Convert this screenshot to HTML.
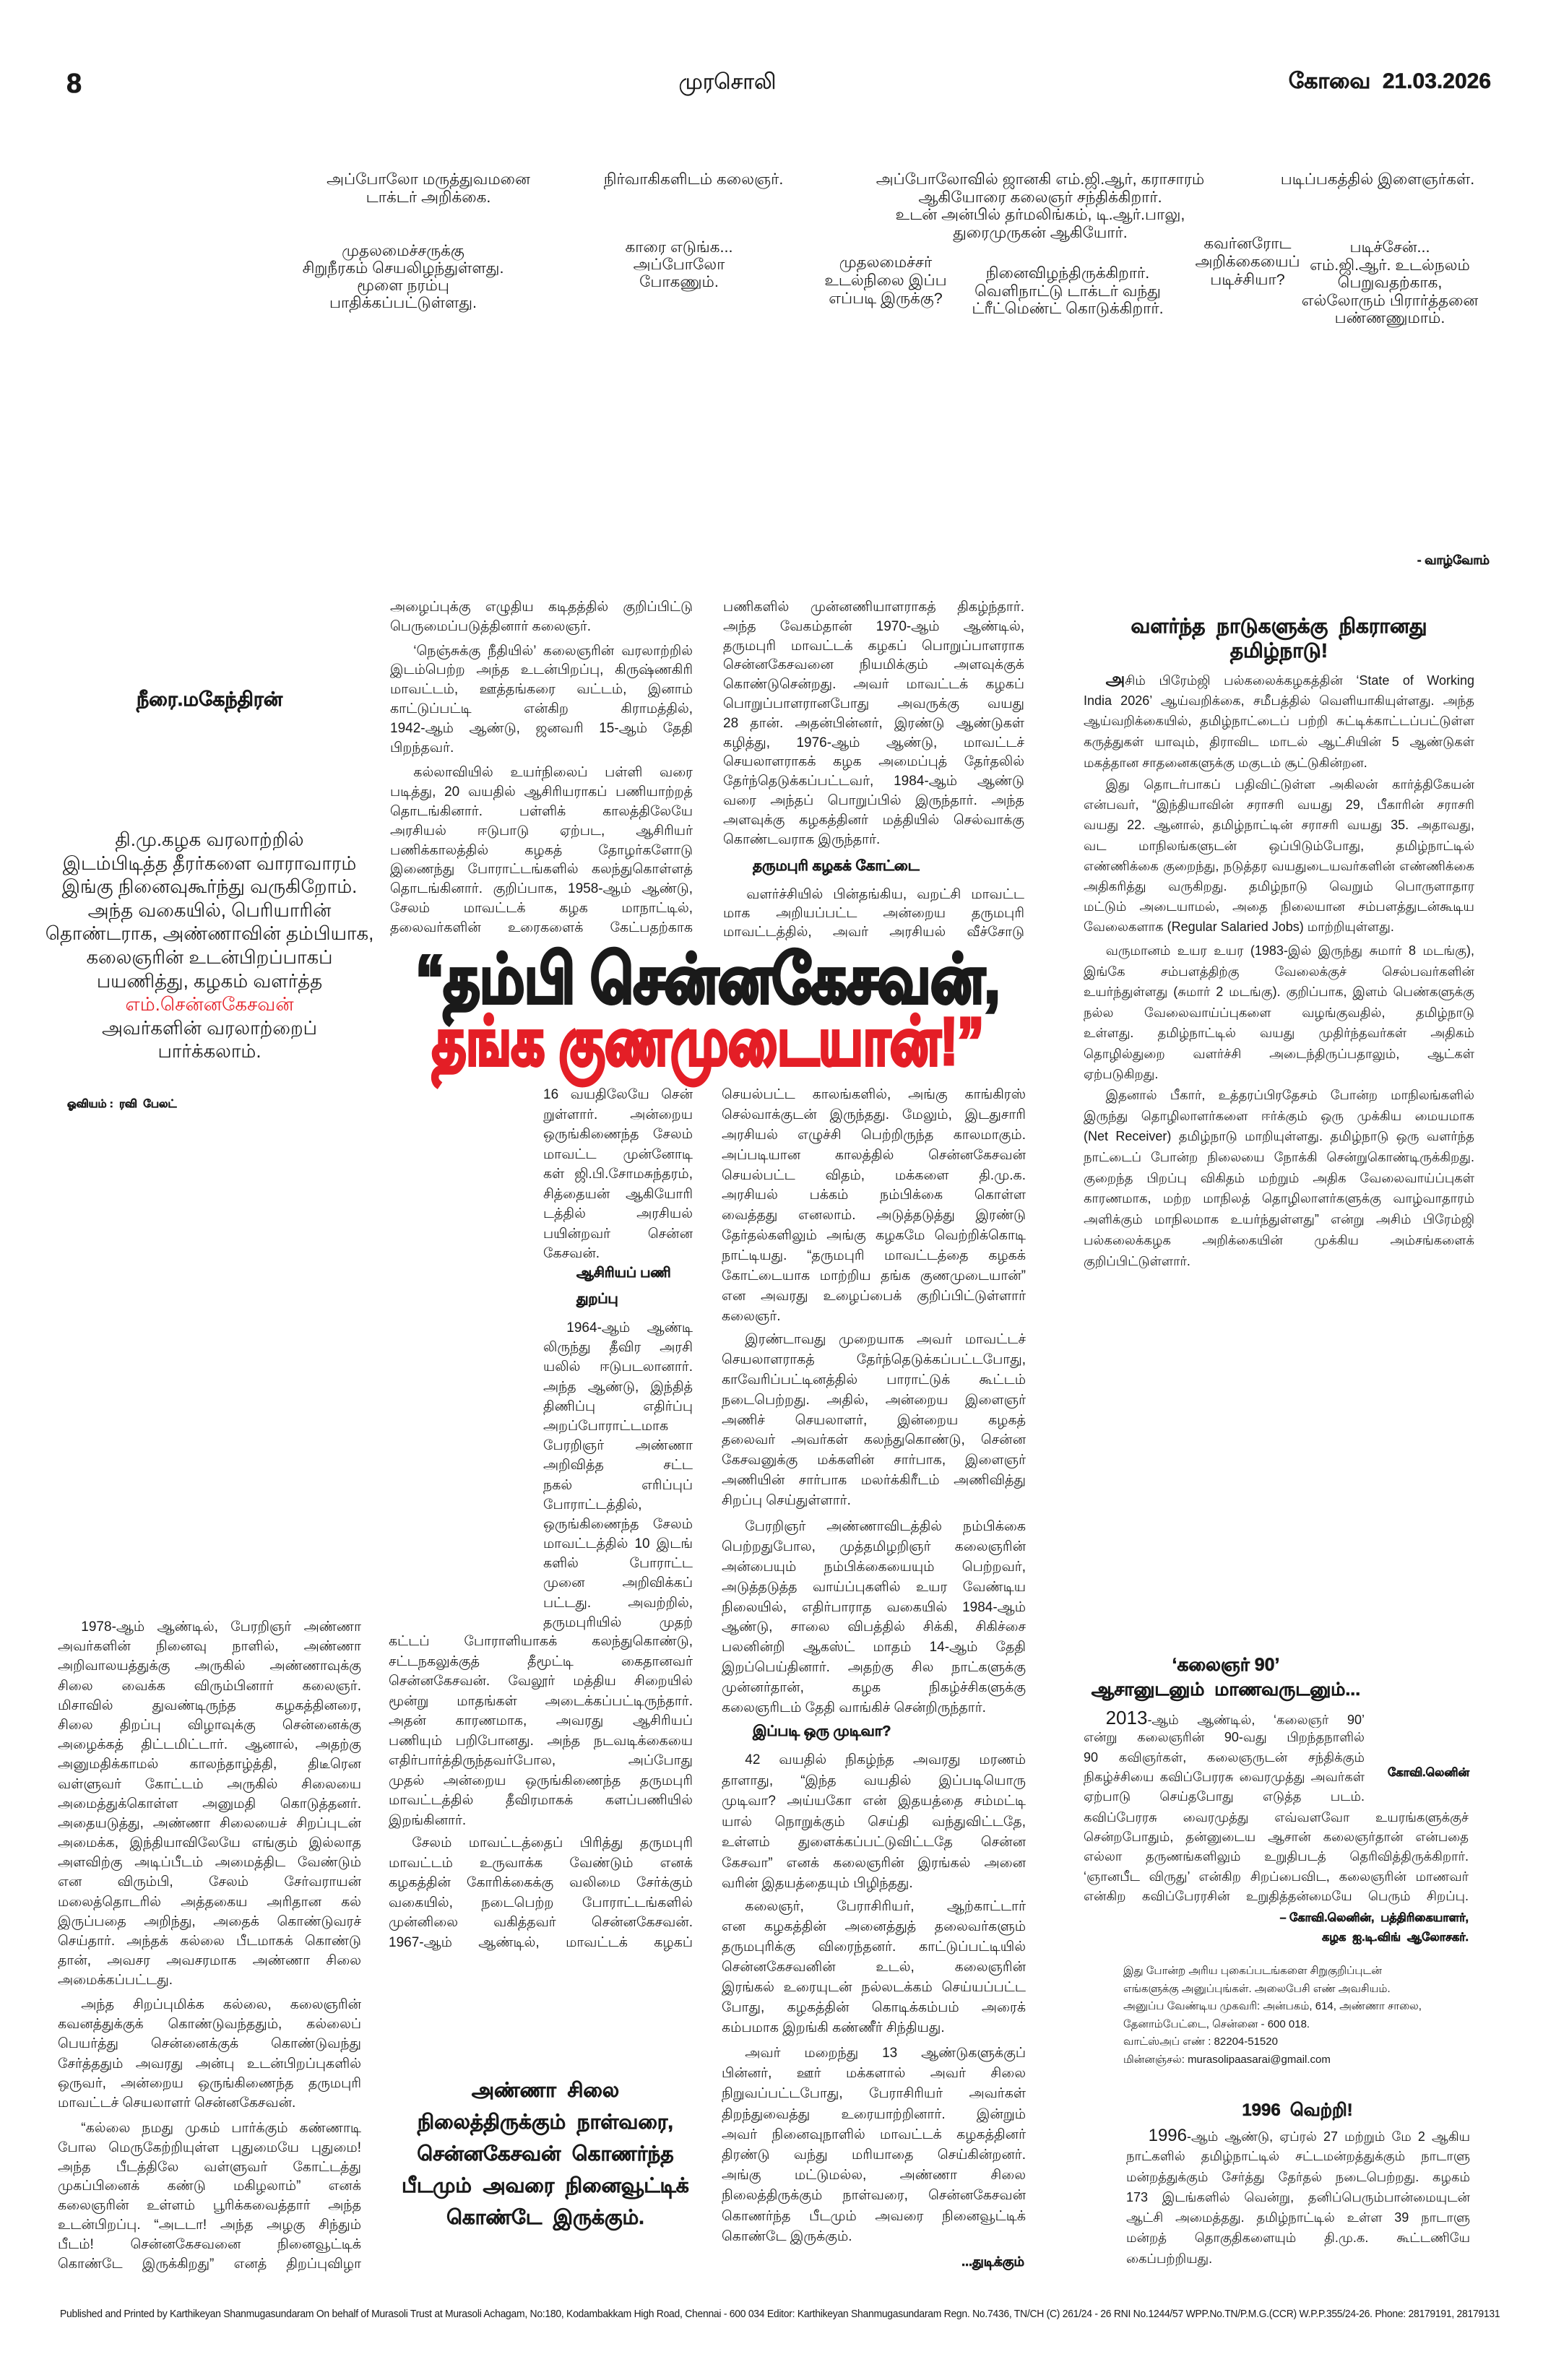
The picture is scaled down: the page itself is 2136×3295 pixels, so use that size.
<!DOCTYPE html>
<html lang="ta">
<head>
<meta charset="utf-8">
<style>
html,body{margin:0;padding:0;background:#fff;}
body{width:2136px;height:3295px;position:relative;overflow:hidden;color:#1a1a1a;font-family:"Liberation Sans","DejaVu Sans",sans-serif;}
.a{position:absolute;white-space:nowrap;}
.cap{position:absolute;width:460px;text-align:center;font-size:21.5px;line-height:25px;}
.c{position:absolute;font-size:19px;}
.c p{margin:0;height:var(--lh);line-height:var(--lh);overflow:hidden;text-align:justify;text-align-last:justify;}
.c p.e{text-align-last:left;}
.c p.i{text-indent:1.7em;}
.r{font-size:18px;}
.b{font-weight:bold;-webkit-text-stroke:0.6px currentColor;}
.hd{position:absolute;left:180px;width:1600px;text-align:center;font-weight:900;font-size:92px;white-space:nowrap;-webkit-text-stroke:5px currentColor;transform-origin:50% 50%;}
.ctr{position:absolute;text-align:center;white-space:nowrap;}
</style>
</head>
<body>

<!-- Header -->
<div class="a b" style="left:92px;top:96px;font-size:38px;line-height:40px;">8</div>
<div class="a" style="left:927px;top:97px;font-size:30px;line-height:34px;width:160px;text-align:center;-webkit-text-stroke:0.5px #1a1a1a;">முரசொலி</div>
<div class="a b" style="right:72px;top:96px;font-size:30px;line-height:34px;">கோவை&nbsp; 21.03.2026</div>

<!-- Top captions -->
<div class="cap" style="left:363px;top:236px;">அப்போலோ மருத்துவமனை<br>டாக்டர் அறிக்கை.</div>
<div class="cap" style="left:730px;top:236px;">நிர்வாகிகளிடம் கலைஞர்.</div>
<div class="cap" style="left:1210px;top:236px;line-height:24.5px;">அப்போலோவில் ஜானகி எம்.ஜி.ஆர், கராசாரம்<br>ஆகியோரை கலைஞர் சந்திக்கிறார்.<br>உடன் அன்பில் தர்மலிங்கம், டி.ஆர்.பாலு,<br>துரைமுருகன் ஆகியோர்.</div>
<div class="cap" style="left:1677px;top:236px;">படிப்பகத்தில் இளைஞர்கள்.</div>
<div class="cap" style="left:328px;top:335px;line-height:24px;">முதலமைச்சருக்கு<br>சிறுநீரகம் செயலிழந்துள்ளது.<br>மூளை நரம்பு<br>பாதிக்கப்பட்டுள்ளது.</div>
<div class="cap" style="left:710px;top:330px;line-height:24px;">காரை எடுங்க...<br>அப்போலோ<br>போகணும்.</div>
<div class="cap" style="left:996px;top:351px;line-height:25px;width:460px;">முதலமைச்சர்<br>உடல்நிலை இப்ப<br>எப்படி இருக்கு?</div>
<div class="cap" style="left:1248px;top:366px;line-height:24.5px;">நினைவிழந்திருக்கிறார்.<br>வெளிநாட்டு டாக்டர் வந்து<br>ட்ரீட்மெண்ட் கொடுக்கிறார்.</div>
<div class="cap" style="left:1497px;top:325px;line-height:25px;">கவர்னரோட<br>அறிக்கையைப்<br>படிச்சியா?</div>
<div class="cap" style="left:1694px;top:330px;line-height:24.5px;">படிச்சேன்...<br>எம்.ஜி.ஆர். உடல்நலம்<br>பெறுவதற்காக,<br>எல்லோரும் பிரார்த்தனை<br>பண்ணணுமாம்.</div>

<!-- Left intro -->
<div class="ctr b" style="left:140px;width:300px;top:952px;font-size:27px;line-height:32px;">நீரை.மகேந்திரன்</div>
<div class="ctr" style="left:60px;width:460px;top:1146px;font-size:26px;line-height:32.6px;">
தி.மு.கழக வரலாற்றில்<br>இடம்பிடித்த தீரர்களை வாராவாரம்<br>இங்கு நினைவுகூர்ந்து வருகிறோம்.<br>அந்த வகையில், பெரியாரின்<br>தொண்டராக, அண்ணாவின் தம்பியாக,<br>கலைஞரின் உடன்பிறப்பாகப்<br>பயணித்து, கழகம் வளர்த்த<br><span style="color:#e41e26;">எம்.சென்னகேசவன்</span><br>அவர்களின் வரலாற்றைப்<br>பார்க்கலாம்.</div>
<div class="a b" style="left:93px;top:1519px;font-size:15px;line-height:20px;">ஓவியம் :&nbsp; ரவி&nbsp; பேலட்</div>

<!-- Col A upper -->
<div class="c" style="left:540px;top:828px;width:419px;--lh:26.8px;">
<p>அழைப்புக்கு எழுதிய கடிதத்தில் குறிப்பிட்டு</p>
<p class="e">பெருமைப்படுத்தினார் கலைஞர்.</p>
<p class="i" style="margin-top:7px;">‘நெஞ்சுக்கு நீதியில்’ கலைஞரின் வரலாற்றில்</p>
<p>இடம்பெற்ற அந்த உடன்பிறப்பு, கிருஷ்ணகிரி</p>
<p>மாவட்டம், ஊத்தங்கரை வட்டம், இனாம்</p>
<p>காட்டுப்பட்டி என்கிற கிராமத்தில்,</p>
<p>1942-ஆம் ஆண்டு, ஜனவரி 15-ஆம் தேதி</p>
<p class="e">பிறந்தவர்.</p>
<p class="i" style="margin-top:8px;">கல்லாவியில் உயர்நிலைப் பள்ளி வரை</p>
<p>படித்து, 20 வயதில் ஆசிரியராகப் பணியாற்றத்</p>
<p>தொடங்கினார். பள்ளிக் காலத்திலேயே</p>
<p>அரசியல் ஈடுபாடு ஏற்பட, ஆசிரியர்</p>
<p>பணிக்காலத்தில் கழகத் தோழர்களோடு</p>
<p>இணைந்து போராட்டங்களில் கலந்துகொள்ளத்</p>
<p>தொடங்கினார். குறிப்பாக, 1958-ஆம் ஆண்டு,</p>
<p>சேலம் மாவட்டக் கழக மாநாட்டில்,</p>
<p>தலைவர்களின் உரைகளைக் கேட்பதற்காக</p>
</div>

<!-- Col B upper -->
<div class="c" style="left:1001px;top:828px;width:417px;--lh:26.8px;">
<p>பணிகளில் முன்னணியாளராகத் திகழ்ந்தார்.</p>
<p>அந்த வேகம்தான் 1970-ஆம் ஆண்டில்,</p>
<p>தருமபுரி மாவட்டக் கழகப் பொறுப்பாளராக</p>
<p>சென்னகேசவனை நியமிக்கும் அளவுக்குக்</p>
<p>கொண்டுசென்றது. அவர் மாவட்டக் கழகப்</p>
<p>பொறுப்பாளரானபோது அவருக்கு வயது</p>
<p>28 தான். அதன்பின்னர், இரண்டு ஆண்டுகள்</p>
<p>கழித்து, 1976-ஆம் ஆண்டு, மாவட்டச்</p>
<p>செயலாளராகக் கழக அமைப்புத் தேர்தலில்</p>
<p>தேர்ந்தெடுக்கப்பட்டவர், 1984-ஆம் ஆண்டு</p>
<p>வரை அந்தப் பொறுப்பில் இருந்தார். அந்த</p>
<p>அளவுக்கு கழகத்தினர் மத்தியில் செல்வாக்கு</p>
<p class="e">கொண்டவராக இருந்தார்.</p>
</div>
<div class="a b" style="left:1042px;top:1186px;font-size:20px;line-height:26px;">தருமபுரி கழகக் கோட்டை</div>
<div class="c" style="left:1001px;top:1226px;width:417px;--lh:26px;">
<p class="i">வளர்ச்சியில் பின்தங்கிய, வறட்சி மாவட்ட</p>
<p>மாக அறியப்பட்ட அன்றைய தருமபுரி</p>
<p>மாவட்டத்தில், அவர் அரசியல் வீச்சோடு</p>
</div>

<!-- Headline -->
<div class="hd" style="top:1312px;height:88px;line-height:88px;color:#1a1a1a;transform:scaleX(0.835);">“தம்பி சென்னகேசவன்,</div>
<div class="hd" style="top:1398px;height:88px;line-height:88px;color:#e41e26;transform:scaleX(0.78);">தங்க குணமுடையான்!”</div>

<!-- Col A lower narrow -->
<div class="c" style="left:752px;top:1502px;width:207px;--lh:27.5px;">
<p>16 வயதிலேயே சென்</p>
<p>றுள்ளார். அன்றைய</p>
<p>ஒருங்கிணைந்த சேலம்</p>
<p>மாவட்ட முன்னோடி</p>
<p>கள் ஜி.பி.சோமசுந்தரம்,</p>
<p>சித்தையன் ஆகியோரி</p>
<p>டத்தில் அரசியல்</p>
<p>பயின்றவர் சென்ன</p>
<p class="e">கேசவன்.</p>
</div>
<div class="a b" style="left:798px;top:1750px;font-size:19px;line-height:26px;">ஆசிரியப் பணி</div>
<div class="a b" style="left:798px;top:1786px;font-size:19px;line-height:26px;">துறப்பு</div>
<div class="c" style="left:752px;top:1825px;width:207px;--lh:27.2px;">
<p class="i">1964-ஆம் ஆண்டி</p>
<p>லிருந்து தீவிர அரசி</p>
<p>யலில் ஈடுபடலானார்.</p>
<p>அந்த ஆண்டு, இந்தித்</p>
<p>திணிப்பு எதிர்ப்பு</p>
<p>அறப்போராட்டமாக</p>
<p>பேரறிஞர் அண்ணா</p>
<p>அறிவித்த சட்ட</p>
<p>நகல் எரிப்புப்</p>
<p>போராட்டத்தில்,</p>
<p>ஒருங்கிணைந்த சேலம்</p>
<p>மாவட்டத்தில் 10 இடங்</p>
<p>களில் போராட்ட</p>
<p>முனை அறிவிக்கப்</p>
<p>பட்டது. அவற்றில்,</p>
<p>தருமபுரியில் முதற்</p>
</div>
<div class="c" style="left:538px;top:2259px;width:421px;--lh:27.5px;">
<p>கட்டப் போராளியாகக் கலந்துகொண்டு,</p>
<p>சட்டநகலுக்குத் தீமூட்டி கைதானவர்</p>
<p>சென்னகேசவன். வேலூர் மத்திய சிறையில்</p>
<p>மூன்று மாதங்கள் அடைக்கப்பட்டிருந்தார்.</p>
<p>அதன் காரணமாக, அவரது ஆசிரியப்</p>
<p>பணியும் பறிபோனது. அந்த நடவடிக்கையை</p>
<p>எதிர்பார்த்திருந்தவர்போல, அப்போது</p>
<p>முதல் அன்றைய ஒருங்கிணைந்த தருமபுரி</p>
<p>மாவட்டத்தில் தீவிரமாகக் களப்பணியில்</p>
<p class="e">இறங்கினார்.</p>
<p class="i" style="margin-top:4px;">சேலம் மாவட்டத்தைப் பிரித்து தருமபுரி</p>
<p>மாவட்டம் உருவாக்க வேண்டும் எனக்</p>
<p>கழகத்தின் கோரிக்கைக்கு வலிமை சேர்க்கும்</p>
<p>வகையில், நடைபெற்ற போராட்டங்களில்</p>
<p>முன்னிலை வகித்தவர் சென்னகேசவன்.</p>
<p>1967-ஆம் ஆண்டில், மாவட்டக் கழகப்</p>
</div>

<!-- Col B lower -->
<div class="c" style="left:999px;top:1502px;width:421px;--lh:27.9px;">
<p>செயல்பட்ட காலங்களில், அங்கு காங்கிரஸ்</p>
<p>செல்வாக்குடன் இருந்தது. மேலும், இடதுசாரி</p>
<p>அரசியல் எழுச்சி பெற்றிருந்த காலமாகும்.</p>
<p>அப்படியான காலத்தில் சென்னகேசவன்</p>
<p>செயல்பட்ட விதம், மக்களை தி.மு.க.</p>
<p>அரசியல் பக்கம் நம்பிக்கை கொள்ள</p>
<p>வைத்தது எனலாம். அடுத்தடுத்து இரண்டு</p>
<p>தேர்தல்களிலும் அங்கு கழகமே வெற்றிக்கொடி</p>
<p>நாட்டியது. “தருமபுரி மாவட்டத்தை கழகக்</p>
<p>கோட்டையாக மாற்றிய தங்க குணமுடையான்”</p>
<p>என அவரது உழைப்பைக் குறிப்பிட்டுள்ளார்</p>
<p class="e">கலைஞர்.</p>
</div>
<div class="c" style="left:999px;top:1841px;width:421px;--lh:27.9px;">
<p class="i">இரண்டாவது முறையாக அவர் மாவட்டச்</p>
<p>செயலாளராகத் தேர்ந்தெடுக்கப்பட்டபோது,</p>
<p>காவேரிப்பட்டினத்தில் பாராட்டுக் கூட்டம்</p>
<p>நடைபெற்றது. அதில், அன்றைய இளைஞர்</p>
<p>அணிச் செயலாளர், இன்றைய கழகத்</p>
<p>தலைவர் அவர்கள் கலந்துகொண்டு, சென்ன</p>
<p>கேசவனுக்கு மக்களின் சார்பாக, இளைஞர்</p>
<p>அணியின் சார்பாக மலர்க்கிரீடம் அணிவித்து</p>
<p class="e">சிறப்பு செய்துள்ளார்.</p>
</div>
<div class="c" style="left:999px;top:2100px;width:421px;--lh:27.9px;">
<p class="i">பேரறிஞர் அண்ணாவிடத்தில் நம்பிக்கை</p>
<p>பெற்றதுபோல, முத்தமிழறிஞர் கலைஞரின்</p>
<p>அன்பையும் நம்பிக்கையையும் பெற்றவர்,</p>
<p>அடுத்தடுத்த வாய்ப்புகளில் உயர வேண்டிய</p>
<p>நிலையில், எதிர்பாராத வகையில் 1984-ஆம்</p>
<p>ஆண்டு, சாலை விபத்தில் சிக்கி, சிகிச்சை</p>
<p>பலனின்றி ஆகஸ்ட் மாதம் 14-ஆம் தேதி</p>
<p>இறப்பெய்தினார். அதற்கு சில நாட்களுக்கு</p>
<p>முன்னர்தான், கழக நிகழ்ச்சிகளுக்கு</p>
<p class="e">கலைஞரிடம் தேதி வாங்கிச் சென்றிருந்தார்.</p>
</div>
<div class="a b" style="left:1042px;top:2384px;font-size:20px;line-height:26px;">இப்படி ஒரு முடிவா?</div>
<div class="c" style="left:999px;top:2423px;width:421px;--lh:28.5px;">
<p class="i">42 வயதில் நிகழ்ந்த அவரது மரணம்</p>
<p>தாளாது, “இந்த வயதில் இப்படியொரு</p>
<p>முடிவா? அய்யகோ என் இதயத்தை சம்மட்டி</p>
<p>யால் நொறுக்கும் செய்தி வந்துவிட்டதே,</p>
<p>உள்ளம் துளைக்கப்பட்டுவிட்டதே சென்ன</p>
<p>கேசவா” எனக் கலைஞரின் இரங்கல் அனை</p>
<p class="e">வரின் இதயத்தையும் பிழிந்தது.</p>
</div>
<div class="c" style="left:999px;top:2626px;width:421px;--lh:28px;">
<p class="i">கலைஞர், பேராசிரியர், ஆற்காட்டார்</p>
<p>என கழகத்தின் அனைத்துத் தலைவர்களும்</p>
<p>தருமபுரிக்கு விரைந்தனர். காட்டுப்பட்டியில்</p>
<p>சென்னகேசவனின் உடல், கலைஞரின்</p>
<p>இரங்கல் உரையுடன் நல்லடக்கம் செய்யப்பட்ட</p>
<p>போது, கழகத்தின் கொடிக்கம்பம் அரைக்</p>
<p class="e">கம்பமாக இறங்கி கண்ணீர் சிந்தியது.</p>
</div>
<div class="c" style="left:999px;top:2829px;width:421px;--lh:28.2px;">
<p class="i">அவர் மறைந்து 13 ஆண்டுகளுக்குப்</p>
<p>பின்னர், ஊர் மக்களால் அவர் சிலை</p>
<p>நிறுவப்பட்டபோது, பேராசிரியர் அவர்கள்</p>
<p>திறந்துவைத்து உரையாற்றினார். இன்றும்</p>
<p>அவர் நினைவுநாளில் மாவட்டக் கழகத்தினர்</p>
<p>திரண்டு வந்து மரியாதை செய்கின்றனர்.</p>
<p>அங்கு மட்டுமல்ல, அண்ணா சிலை</p>
<p>நிலைத்திருக்கும் நாள்வரை, சென்னகேசவன்</p>
<p>கொணர்ந்த பீடமும் அவரை நினைவூட்டிக்</p>
<p class="e">கொண்டே இருக்கும்.</p>
</div>
<div class="a b" style="right:718px;top:3118px;font-size:18px;line-height:26px;">...துடிக்கும்</div>

<!-- Pull quote -->
<div class="ctr b" style="left:555px;width:400px;top:2872px;font-size:28px;line-height:44px;">அண்ணா&nbsp; சிலை<br>நிலைத்திருக்கும்&nbsp; நாள்வரை,<br>சென்னகேசவன்&nbsp; கொணர்ந்த<br>பீடமும்&nbsp; அவரை&nbsp; நினைவூட்டிக்<br>கொண்டே&nbsp; இருக்கும்.</div>

<!-- Left column -->
<div class="c" style="left:80px;top:2239px;width:420px;--lh:27.2px;">
<p class="i">1978-ஆம் ஆண்டில், பேரறிஞர் அண்ணா</p>
<p>அவர்களின் நினைவு நாளில், அண்ணா</p>
<p>அறிவாலயத்துக்கு அருகில் அண்ணாவுக்கு</p>
<p>சிலை வைக்க விரும்பினார் கலைஞர்.</p>
<p>மிசாவில் துவண்டிருந்த கழகத்தினரை,</p>
<p>சிலை திறப்பு விழாவுக்கு சென்னைக்கு</p>
<p>அழைக்கத் திட்டமிட்டார். ஆனால், அதற்கு</p>
<p>அனுமதிக்காமல் காலந்தாழ்த்தி, திடீரென</p>
<p>வள்ளுவர் கோட்டம் அருகில் சிலையை</p>
<p>அமைத்துக்கொள்ள அனுமதி கொடுத்தனர்.</p>
<p>அதையடுத்து, அண்ணா சிலையைச் சிறப்புடன்</p>
<p>அமைக்க, இந்தியாவிலேயே எங்கும் இல்லாத</p>
<p>அளவிற்கு அடிப்பீடம் அமைத்திட வேண்டும்</p>
<p>என விரும்பி, சேலம் சேர்வராயன்</p>
<p>மலைத்தொடரில் அத்தகைய அரிதான கல்</p>
<p>இருப்பதை அறிந்து, அதைக் கொண்டுவரச்</p>
<p>செய்தார். அந்தக் கல்லை பீடமாகக் கொண்டு</p>
<p>தான், அவசர அவசரமாக அண்ணா சிலை</p>
<p class="e">அமைக்கப்பட்டது.</p>
</div>
<div class="c" style="left:80px;top:2762px;width:420px;--lh:27.2px;">
<p class="i">அந்த சிறப்புமிக்க கல்லை, கலைஞரின்</p>
<p>கவனத்துக்குக் கொண்டுவந்ததும், கல்லைப்</p>
<p>பெயர்த்து சென்னைக்குக் கொண்டுவந்து</p>
<p>சேர்த்ததும் அவரது அன்பு உடன்பிறப்புகளில்</p>
<p>ஒருவர், அன்றைய ஒருங்கிணைந்த தருமபுரி</p>
<p class="e">மாவட்டச் செயலாளர் சென்னகேசவன்.</p>
</div>
<div class="c" style="left:80px;top:2934px;width:420px;--lh:26.8px;">
<p class="i">“கல்லை நமது முகம் பார்க்கும் கண்ணாடி</p>
<p>போல மெருகேற்றியுள்ள புதுமையே புதுமை!</p>
<p>அந்த பீடத்திலே வள்ளுவர் கோட்டத்து</p>
<p>முகப்பினைக் கண்டு மகிழலாம்” எனக்</p>
<p>கலைஞரின் உள்ளம் பூரிக்கவைத்தார் அந்த</p>
<p>உடன்பிறப்பு. “அடடா! அந்த அழகு சிந்தும்</p>
<p>பீடம்! சென்னகேசவனை நினைவூட்டிக்</p>
<p>கொண்டே இருக்கிறது” எனத் திறப்புவிழா</p>
</div>

<!-- Right column -->
<div class="a b" style="right:74px;top:764px;font-size:17px;line-height:24px;">- வாழ்வோம்</div>
<div class="ctr b" style="left:1500px;width:541px;top:850px;font-size:28px;line-height:34px;">வளர்ந்த&nbsp; நாடுகளுக்கு&nbsp; நிகரானது<br>தமிழ்நாடு!</div>
<div class="c r" style="left:1500px;top:927px;width:541px;--lh:28.7px;">
<p class="i"><b style="font-size:24px;">அ</b>சிம் பிரேம்ஜி பல்கலைக்கழகத்தின் ‘State of Working</p>
<p>India 2026’ ஆய்வறிக்கை, சமீபத்தில் வெளியாகியுள்ளது. அந்த</p>
<p>ஆய்வறிக்கையில், தமிழ்நாட்டைப் பற்றி சுட்டிக்காட்டப்பட்டுள்ள</p>
<p>கருத்துகள் யாவும், திராவிட மாடல் ஆட்சியின் 5 ஆண்டுகள்</p>
<p class="e">மகத்தான சாதனைகளுக்கு மகுடம் சூட்டுகின்றன.</p>
</div>
<div class="c r" style="left:1500px;top:1072px;width:541px;--lh:28.2px;">
<p class="i">இது தொடர்பாகப் பதிவிட்டுள்ள அகிலன் கார்த்திகேயன்</p>
<p>என்பவர், “இந்தியாவின் சராசரி வயது 29, பீகாரின் சராசரி</p>
<p>வயது 22. ஆனால், தமிழ்நாட்டின் சராசரி வயது 35. அதாவது,</p>
<p>வட மாநிலங்களுடன் ஒப்பிடும்போது, தமிழ்நாட்டில் இளைஞர்களின்</p>
<p>எண்ணிக்கை குறைந்து, நடுத்தர வயதுடையவர்களின் எண்ணிக்கை</p>
<p>அதிகரித்து வருகிறது. தமிழ்நாடு வெறும் பொருளாதார வளர்ச்சியை</p>
<p>மட்டும் அடையாமல், அதை நிலையான சம்பளத்துடன்கூடிய</p>
<p class="e">வேலைகளாக (Regular Salaried Jobs) மாற்றியுள்ளது.</p>
</div>
<div class="c r" style="left:1500px;top:1302px;width:541px;--lh:28.5px;">
<p class="i">வருமானம் உயர உயர (1983-இல் இருந்து சுமார் 8 மடங்கு),</p>
<p>இங்கே சம்பளத்திற்கு வேலைக்குச் செல்பவர்களின் எண்ணிக்கையும்</p>
<p>உயர்ந்துள்ளது (சுமார் 2 மடங்கு). குறிப்பாக, இளம் பெண்களுக்கு</p>
<p>நல்ல வேலைவாய்ப்புகளை வழங்குவதில், தமிழ்நாடு முன்னணியில்</p>
<p>உள்ளது. தமிழ்நாட்டில் வயது முதிர்ந்தவர்கள் அதிகம் இருப்பதாலும்,</p>
<p>தொழில்துறை வளர்ச்சி அடைந்திருப்பதாலும், ஆட்கள் பற்றாக்குறை</p>
<p class="e">ஏற்படுகிறது.</p>
</div>
<div class="c r" style="left:1500px;top:1502px;width:541px;--lh:28.7px;">
<p class="i">இதனால் பீகார், உத்தரப்பிரதேசம் போன்ற மாநிலங்களில்</p>
<p>இருந்து தொழிலாளர்களை ஈர்க்கும் ஒரு முக்கிய மையமாக</p>
<p>(Net Receiver) தமிழ்நாடு மாறியுள்ளது. தமிழ்நாடு ஒரு வளர்ந்த</p>
<p>நாட்டைப் போன்ற நிலையை நோக்கி சென்றுகொண்டிருக்கிறது.</p>
<p>குறைந்த பிறப்பு விகிதம் மற்றும் அதிக வேலைவாய்ப்புகள்</p>
<p>காரணமாக, மற்ற மாநிலத் தொழிலாளர்களுக்கு வாழ்வாதாரம்</p>
<p>அளிக்கும் மாநிலமாக உயர்ந்துள்ளது” என்று அசிம் பிரேம்ஜி</p>
<p>பல்கலைக்கழக அறிக்கையின் முக்கிய அம்சங்களைக்</p>
<p class="e">குறிப்பிட்டுள்ளார்.</p>
</div>

<!-- Kalaignar 90 -->
<div class="ctr b" style="left:1480px;width:434px;top:2288px;font-size:25px;line-height:34px;">‘கலைஞர் 90’<br>ஆசானுடனும்&nbsp; மாணவருடனும்...</div>
<div class="c r" style="left:1500px;top:2365px;width:389px;--lh:27.3px;">
<p class="i"><span style="font-size:26px;">2013</span>-ஆம் ஆண்டில், ‘கலைஞர் 90’</p>
<p>என்று கலைஞரின் 90-வது பிறந்தநாளில்</p>
<p>90 கவிஞர்கள், கலைஞருடன் சந்திக்கும்</p>
<p>நிகழ்ச்சியை கவிப்பேரரசு வைரமுத்து அவர்கள்</p>
<p>ஏற்பாடு செய்தபோது எடுத்த படம்.</p>
</div>
<div class="a b" style="left:1921px;top:2443px;font-size:16px;line-height:24px;">கோவி.லெனின்</div>
<div class="c r" style="left:1500px;top:2503px;width:533px;--lh:27.2px;">
<p>கவிப்பேரரசு வைரமுத்து எவ்வளவோ உயரங்களுக்குச்</p>
<p>சென்றபோதும், தன்னுடைய ஆசான் கலைஞர்தான் என்பதை</p>
<p>எல்லா தருணங்களிலும் உறுதிபடத் தெரிவித்திருக்கிறார்.</p>
<p>‘ஞானபீட விருது’ என்கிற சிறப்பைவிட, கலைஞரின் மாணவர்</p>
<p>என்கிற கவிப்பேரரசின் உறுதித்தன்மையே பெரும் சிறப்பு.</p>
</div>
<div class="a b" style="right:103px;top:2642px;font-size:16px;line-height:27px;text-align:right;">– கோவி.லெனின்,&nbsp; பத்திரிகையாளர்,<br>கழக&nbsp; ஐ.டி.விங்&nbsp; ஆலோசகர்.</div>
<div class="a" style="left:1555px;top:2717px;font-size:15px;line-height:24.6px;">இது போன்ற அரிய புகைப்படங்களை சிறுகுறிப்புடன்<br>எங்களுக்கு அனுப்புங்கள். அலைபேசி எண் அவசியம்.<br>அனுப்ப வேண்டிய முகவரி: அன்பகம், 614, அண்ணா சாலை,<br>தேனாம்பேட்டை, சென்னை - 600 018.<br>வாட்ஸ்அப் எண் : 82204-51520<br>மின்னஞ்சல்: murasolipaasarai@gmail.com</div>

<!-- 1996 -->
<div class="ctr b" style="left:1596px;width:400px;top:2906px;font-size:24px;line-height:32px;">1996&nbsp; வெற்றி!</div>
<div class="c r" style="left:1559px;top:2943px;width:476px;--lh:28.3px;">
<p class="i"><span style="font-size:24px;">1996</span>-ஆம் ஆண்டு, ஏப்ரல் 27 மற்றும் மே 2 ஆகிய</p>
<p>நாட்களில் தமிழ்நாட்டில் சட்டமன்றத்துக்கும் நாடாளு</p>
<p>மன்றத்துக்கும் சேர்த்து தேர்தல் நடைபெற்றது. கழகம்</p>
<p>173 இடங்களில் வென்று, தனிப்பெரும்பான்மையுடன்</p>
<p>ஆட்சி அமைத்தது. தமிழ்நாட்டில் உள்ள 39 நாடாளு</p>
<p>மன்றத் தொகுதிகளையும் தி.மு.க. கூட்டணியே</p>
<p class="e">கைப்பற்றியது.</p>
</div>

<!-- Footer -->
<div class="a" style="left:83px;top:3194px;font-size:15px;line-height:20px;width:2460px;transform:scaleX(0.93);transform-origin:0 0;letter-spacing:-0.3px;">Published and Printed by Karthikeyan Shanmugasundaram On behalf of Murasoli Trust at Murasoli Achagam, No:180, Kodambakkam High Road, Chennai - 600 034 Editor: Karthikeyan Shanmugasundaram Regn. No.7436, TN/CH (C) 261/24 - 26 RNI No.1244/57 WPP.No.TN/P.M.G.(CCR) W.P.P.355/24-26. Phone: 28179191, 28179131</div>

</body>
</html>
